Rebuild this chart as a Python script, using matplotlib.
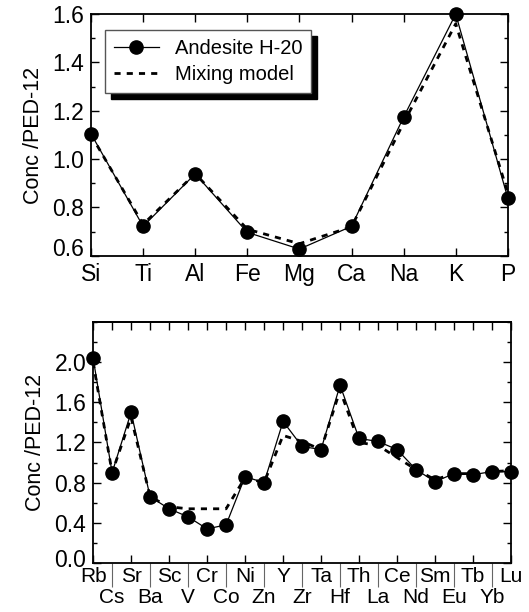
"""
Andesite H-20 vs mixing model, normalised to PED-12
"""

import matplotlib
matplotlib.use('Agg')
import matplotlib.pyplot as plt
import matplotlib.transforms as mtransforms
from matplotlib.ticker import MultipleLocator

plt.rcParams['font.family'] = ['Liberation Sans', 'DejaVu Sans']

# Major elements
major_el = ['Si', 'Ti', 'Al', 'Fe', 'Mg', 'Ca', 'Na', 'K', 'P']
major_obs = [1.105, 0.722, 0.939, 0.697, 0.628, 0.722, 1.174, 1.60, 0.838]
major_mod = [1.10, 0.73, 0.94, 0.71, 0.65, 0.72, 1.15, 1.56, 0.86]

# Trace elements
trace_el = ['Rb', 'Cs', 'Sr', 'Ba', 'Sc', 'V', 'Cr', 'Co', 'Ni', 'Zn', 'Y', 'Zr',
            'Ta', 'Hf', 'Th', 'La', 'Ce', 'Nd', 'Sm', 'Eu', 'Tb', 'Yb', 'Lu']
trace_obs = [2.04, 0.90, 1.50, 0.66, 0.54, 0.46, 0.34, 0.38, 0.86, 0.80, 1.41, 1.16,
             1.13, 1.77, 1.24, 1.21, 1.13, 0.93, 0.81, 0.89, 0.88, 0.91, 0.91]
trace_mod = [2.00, 0.90, 1.45, 0.66, 0.56, 0.54, 0.54, 0.54, 0.85, 0.80, 1.27, 1.21,
             1.13, 1.72, 1.20, 1.17, 1.05, 0.93, 0.83, 0.89, 0.89, 0.91, 0.92]


def draw_series(ax, x, obs, mod):
    ax.plot(x, mod, color='black', linestyle=(0, (2.2, 2.2)), linewidth=2.0,
            label='Mixing model', zorder=2)
    ax.plot(x, obs, color='black', linewidth=0.9, marker='o', markersize=9.5,
            label='Andesite H-20', zorder=3, clip_on=False)


def style_frame(ax):
    for sp in ax.spines.values():
        sp.set_linewidth(1.3)
    ax.tick_params(axis='y', which='both', direction='in', left=True, right=True,
                   labelsize=16.5, width=1.0, pad=5)
    ax.tick_params(axis='y', which='major', length=6)
    ax.tick_params(axis='y', which='minor', length=3)
    ax.set_ylabel('Conc /PED-12', fontsize=15.5, labelpad=6)


fig = plt.figure(figsize=(5.29, 6.12), dpi=100)

# ---- top panel: major elements
ax1 = fig.add_axes([0.172, 0.582, 0.788, 0.395])
x1 = list(range(len(major_el)))
draw_series(ax1, x1, major_obs, major_mod)
ax1.set_xlim(0, len(major_el) - 1)
ax1.set_ylim(0.6, 1.6)
ax1.set_xticks(x1, labels=major_el)
ax1.set_yticks([0.6, 0.8, 1.0, 1.2, 1.4, 1.6], labels=['0.6', '0.8', '1.0', '1.2', '1.4', '1.6'])
ax1.yaxis.set_minor_locator(MultipleLocator(0.1))
style_frame(ax1)
ax1.tick_params(axis='x', direction='in', top=True, length=6, width=1.0,
                labelsize=16.5, pad=5)
# lowest label sits just above the axis corner
ax1.get_yticklabels()[0].set_va('baseline')

handles, labels = ax1.get_legend_handles_labels()
leg = ax1.legend(handles[::-1], labels[::-1], loc='upper left',
                 bbox_to_anchor=(0.034, 0.934), borderaxespad=0, fontsize=14.5,
                 fancybox=False, frameon=True, handlelength=2.2,
                 shadow={'color': 'black', 'alpha': 1.0, 'ox': 4, 'oy': -4},
                 borderpad=0.45, labelspacing=0.35)
leg.get_frame().set_edgecolor('#555555')
leg.get_frame().set_linewidth(1.0)

# ---- bottom panel: trace elements
ax2 = fig.add_axes([0.176, 0.080, 0.790, 0.394])
x2 = list(range(len(trace_el)))
draw_series(ax2, x2, trace_obs, trace_mod)
ax2.set_xlim(0, len(trace_el) - 1)
ax2.set_ylim(0.0, 2.4)
ax2.set_yticks([0.0, 0.4, 0.8, 1.2, 1.6, 2.0], labels=['0.0', '0.4', '0.8', '1.2', '1.6', '2.0'])
ax2.yaxis.set_minor_locator(MultipleLocator(0.2))
style_frame(ax2)
# nudge "0.0" up a little so it clears "Rb"
lab0 = ax2.yaxis.get_major_ticks()[0].label1
lab0.set_transform(lab0.get_transform()
                   + mtransforms.ScaledTranslation(0, 3.5 / 72, fig.dpi_scale_trans))

# even elements on the first row, odd ones below with separator ticks
ax2.set_xticks(x2[0::2], labels=trace_el[0::2])
ax2.set_xticks(x2[1::2], labels=trace_el[1::2], minor=True)
ax2.tick_params(axis='x', which='major', direction='in', length=6, width=1.0,
                labelsize=15, pad=3)
ax2.tick_params(axis='x', which='minor', direction='out', length=17, width=0.8,
                color='#666666', labelsize=15, pad=1)

top = ax2.secondary_xaxis('top')
top.set_xticks(x2)
top.tick_params(axis='x', direction='in', length=6, width=1.0, labeltop=False)
top.spines['top'].set_linewidth(1.3)

fig.savefig('out.png', dpi=100)
